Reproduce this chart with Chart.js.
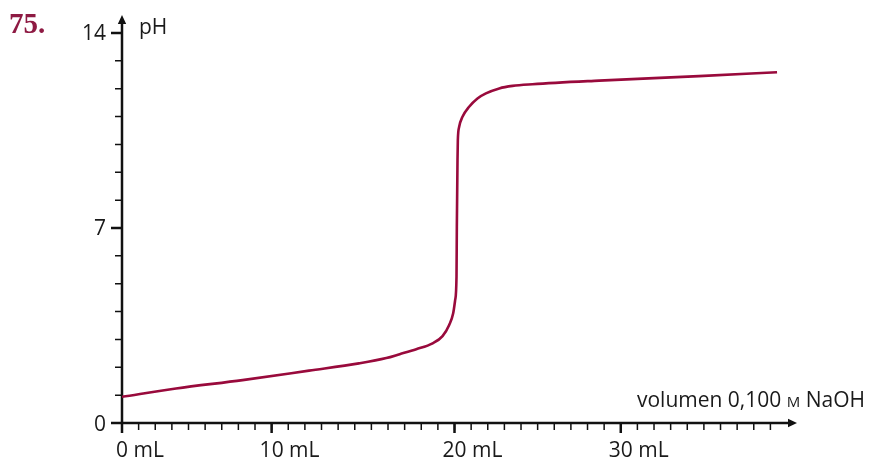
<!DOCTYPE html>
<html>
<head>
<meta charset="utf-8">
<script src="https://cdn.jsdelivr.net/npm/chart.js@4"></script>
<style>
  html, body { margin: 0; padding: 0; background: #fff; }
  canvas { display: block; }
</style>
</head>
<body>
<canvas id="chart" width="871" height="460"></canvas>
<script>
// titration curve (mL NaOH, pH)
const volume = [0, 3.25, 7.25, 11.25, 14.25, 15.9, 16.7, 17.7, 18.68, 19.28, 19.68, 19.92, 20.04, 20.12, 20.14, 20.18, 20.2, 20.28, 20.48, 20.88, 21.38, 21.89, 22.69, 23.49, 24.69, 28.7, 34.7, 39.4];
const ph     = [0.94, 1.24, 1.54, 1.88, 2.14, 2.33, 2.47, 2.65, 2.86, 3.12, 3.52, 3.94, 4.42, 5.25, 7.04, 9.43, 10.15, 10.63, 10.99, 11.35, 11.65, 11.83, 12.01, 12.1, 12.16, 12.29, 12.45, 12.59];

// axis ticks (the "10 mL" mark sits on the 9th small tick in the original)
const xMajorTicks = [0, 9, 20, 30];
const xTickLabels = ['0 mL', '10 mL', '20 mL', '30 mL'];
const xTickNumbers = ['0', '10', '20', '30'];
const xMinorCount = 39;
const yMajorTicks = [0, 7, 14];
const yTickLabels = ['0', '7', '14'];
const yMinorCount = 14;

const xMax = 40.6;
const yMax = 14.645;
const curveColor = '#990a3c';
const textFont = '"Open Sans", "Noto Sans", sans-serif';

const axesPlugin = {
  id: 'axes',
  beforeDatasetsDraw(chart) {
    const { ctx, chartArea: a, scales: { x, y } } = chart;
    const x0 = x.getPixelForValue(0);
    const y0 = y.getPixelForValue(0);
    ctx.save();
    ctx.strokeStyle = '#111';
    ctx.fillStyle = '#111';

    // minor ticks
    ctx.lineWidth = 1.5;
    ctx.beginPath();
    for (let i = 1; i <= xMinorCount; i++) {
      const px = x.getPixelForValue(i);
      ctx.moveTo(px, y0); ctx.lineTo(px, y0 + 7);
    }
    for (let i = 1; i <= yMinorCount; i++) {
      const py = y.getPixelForValue(i);
      ctx.moveTo(x0, py); ctx.lineTo(x0 - 7, py);
    }
    ctx.stroke();

    // major ticks
    ctx.lineWidth = 2.5;
    ctx.beginPath();
    xMajorTicks.forEach(v => {
      const px = x.getPixelForValue(v);
      ctx.moveTo(px, y0); ctx.lineTo(px, y0 + 10);
    });
    yMajorTicks.forEach(v => {
      const py = y.getPixelForValue(v);
      ctx.moveTo(x0, py); ctx.lineTo(x0 - 11, py);
    });
    // axis lines
    ctx.moveTo(x0, y0); ctx.lineTo(a.right - 6, y0);
    ctx.moveTo(x0, y0); ctx.lineTo(x0, a.top + 6);
    ctx.stroke();

    // arrow heads
    ctx.beginPath();
    ctx.moveTo(a.right, y0); ctx.lineTo(a.right - 9, y0 - 4.2); ctx.lineTo(a.right - 9, y0 + 4.2);
    ctx.closePath();
    ctx.moveTo(x0, a.top); ctx.lineTo(x0 - 4.2, a.top + 9); ctx.lineTo(x0 + 4.2, a.top + 9);
    ctx.closePath();
    ctx.fill();

    // tick labels
    ctx.fillStyle = '#1a1a1a';
    ctx.font = '21px ' + textFont;
    ctx.textBaseline = 'alphabetic';
    ctx.textAlign = 'left';
    xMajorTicks.forEach((v, i) => {
      const px = x.getPixelForValue(v);
      const w = ctx.measureText(xTickNumbers[i]).width;
      ctx.fillText(xTickLabels[i], px - w / 2, y0 + 34);
    });
    ctx.textAlign = 'right';
    yMajorTicks.forEach((v, i) => {
      ctx.fillText(yTickLabels[i], x0 - 16, y.getPixelForValue(v) + 7.5);
    });

    // axis titles
    ctx.textAlign = 'left';
    ctx.fillText('pH', x0 + 17, 33.5);
    const part1 = 'volumen 0,100 ';
    const part3 = ' NaOH';
    const big = '21px ' + textFont, small = '15px ' + textFont;
    ctx.font = big;
    const w1 = ctx.measureText(part1).width, w3 = ctx.measureText(part3).width;
    ctx.font = small;
    const w2 = ctx.measureText('M').width;
    let tx = 865 - (w1 + w2 + w3);
    const ty = y0 - 16;
    ctx.font = big; ctx.fillText(part1, tx, ty); tx += w1;
    ctx.font = small; ctx.fillText('M', tx, ty); tx += w2;
    ctx.font = big; ctx.fillText(part3, tx, ty);

    // exercise number
    ctx.fillStyle = '#8e1a43';
    ctx.font = 'bold 29px "Liberation Serif", "DejaVu Serif", serif';
    ctx.fillText('75.', 9, 33);
    ctx.restore();
  }
};

new Chart(document.getElementById('chart'), {
  type: 'line',
  data: {
    datasets: [{
      data: volume.map((v, i) => ({ x: v, y: ph[i] })),
      borderColor: curveColor,
      borderWidth: 2.6,
      pointRadius: 0,
      fill: false,
      cubicInterpolationMode: 'monotone'
    }]
  },
  options: {
    responsive: false,
    animation: false,
    devicePixelRatio: 1,
    layout: { padding: { left: 122, right: 74, top: 15, bottom: 37 } },
    scales: {
      x: { type: 'linear', min: 0, max: xMax, display: false },
      y: { min: 0, max: yMax, display: false }
    },
    plugins: { legend: { display: false }, tooltip: { enabled: false } }
  },
  plugins: [axesPlugin]
});
</script>
</body>
</html>
